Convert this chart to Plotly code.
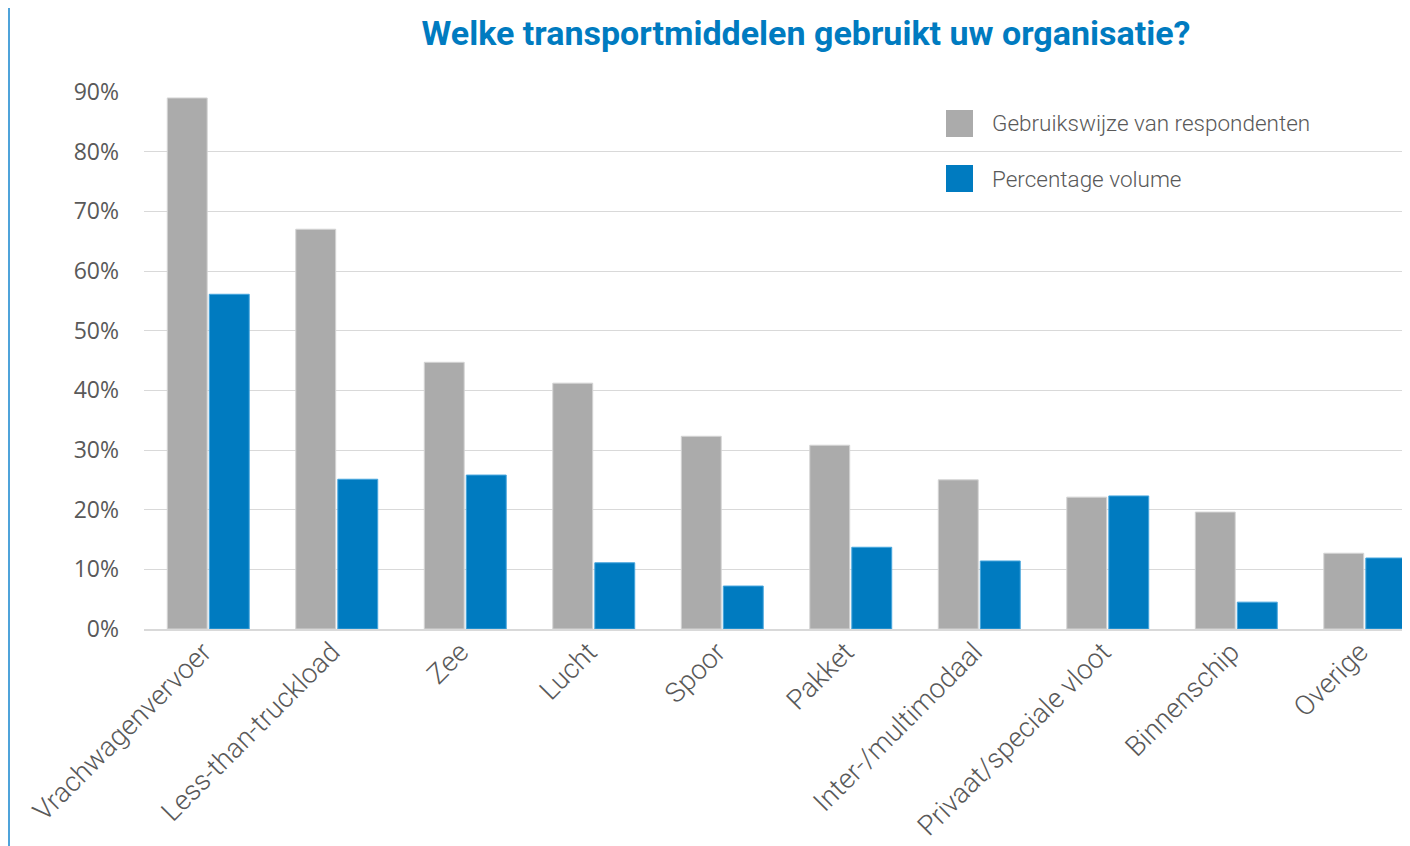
import plotly.graph_objects as go

categories = ["Vrachwagenvervoer", "Less-than-truckload", "Zee", "Lucht", "Spoor",
              "Pakket", "Inter-/multimodaal", "Privaat/speciale vloot", "Binnenschip", "Overige"]
gebruik = [0.890, 0.670, 0.447, 0.412, 0.323, 0.308, 0.250, 0.221, 0.196, 0.127]
volume = [0.561, 0.251, 0.258, 0.111, 0.072, 0.137, 0.114, 0.223, 0.045, 0.119]
series_names = ["Gebruikswijze van respondenten", "Percentage volume"]
y_ticks = [0, 0.1, 0.2, 0.3, 0.4, 0.5, 0.6, 0.7, 0.8, 0.9]
y_labels = ["0%", "10%", "20%", "30%", "40%", "50%", "60%", "70%", "80%", "90%"]

GRAY = "#ABABAB"
BLUE = "#007BC0"
TXT = "#595959"

fig = go.Figure()
fig.add_trace(go.Bar(x=categories, y=gebruik, name=series_names[0],
                     marker=dict(color=GRAY, line=dict(color="#D4D4D4", width=1)),
                     showlegend=False))
fig.add_trace(go.Bar(x=categories, y=volume, name=series_names[1],
                     marker=dict(color=BLUE, line=dict(color="#47A6DD", width=1)),
                     showlegend=False))

OFF = 8  # page body margin
W, H = 1410 - OFF, 846 - OFF
L, T = 144 - OFF, 92 - OFF
B = H - (629 - OFF)
R = 0
pw, ph = W - L - R, H - T - B


def px(x):  # reference screen x -> paper
    return (x - OFF - L) / pw


def py(y):  # reference screen y -> paper
    return (H - B - (y - OFF)) / ph


# manual legend
legend_rows = [(110, GRAY, series_names[0]), (165, BLUE, series_names[1])]
for top, col, name in legend_rows:
    fig.add_shape(type="rect", xref="paper", yref="paper",
                  x0=px(946), x1=px(973), y0=py(top + 27), y1=py(top),
                  fillcolor=col, line=dict(width=0))
    fig.add_annotation(xref="paper", yref="paper", x=px(990), y=py(top + 13.5),
                       text=name, showarrow=False, xanchor="left", yanchor="middle",
                       font=dict(family="Roboto", size=22.5, color=TXT, weight=300))

# left border line
fig.add_shape(type="line", xref="paper", yref="paper",
              x0=px(9), x1=px(9), y0=py(0), y1=py(846),
              line=dict(color="#4FA3DA", width=2))

fig.update_layout(
    width=W, height=H,
    margin=dict(l=L, r=R, t=T, b=B, pad=0, autoexpand=False),
    paper_bgcolor="white", plot_bgcolor="white",
    barmode="group", bargap=0.346, bargroupgap=0.05,
    title=dict(text="<b>Welke transportmiddelen gebruikt uw organisatie?</b>",
               x=(806 - OFF) / W, xanchor="center",
               y=1 - (33 - OFF) / H, yanchor="middle",
               font=dict(family="Roboto", size=34, color=BLUE)),
    xaxis=dict(range=[-0.5, 9.352], tickangle=-45, showgrid=False, automargin=False,
               showline=True, linecolor="#D9D9D9", linewidth=2,
               ticks="", ticklabelshift=-5, ticklabelstandoff=-6,
               tickfont=dict(family="Roboto", size=27.5, color=TXT, weight=300)),
    yaxis=dict(range=[0, 0.9], tickvals=y_ticks, ticktext=y_labels, automargin=False,
               showgrid=True, gridcolor="#D9D9D9", gridwidth=1.3,
               zeroline=False, ticks="", ticklabelstandoff=24,
               tickfont=dict(family="Open Sans", size=23, color=TXT)),
)

fig.write_html("out.html")
